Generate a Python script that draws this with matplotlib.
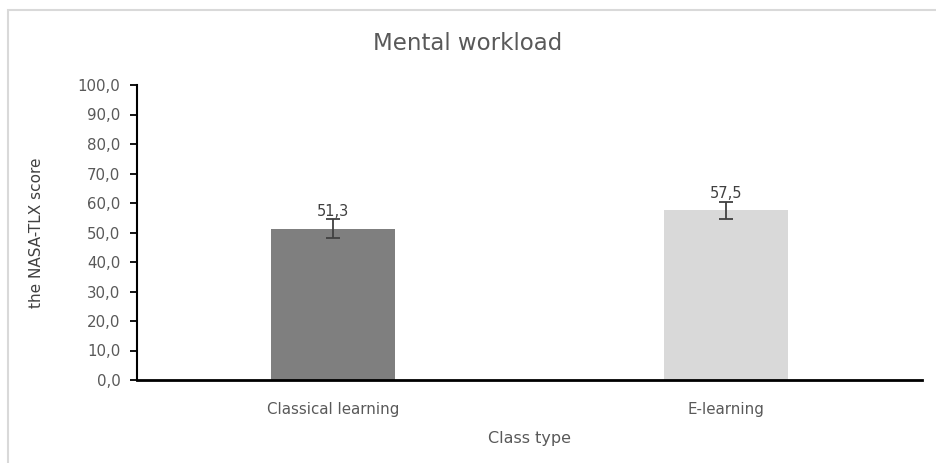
import numpy as np
import matplotlib.pyplot as plt
from matplotlib.patches import Rectangle

categories = ["Classical learning", "E-learning"]
scores = [51.3, 57.5]
errors = [3.2, 3.0]
bar_colors = ["#7f7f7f", "#d9d9d9"]
yticks = np.arange(0, 101, 10)

plt.rcParams['font.family'] = ['DejaVu Sans']
txt = "#595959"

fig = plt.figure(figsize=(9.36, 4.63), dpi=100)
ax = fig.add_axes([137/936, 1 - 380/463, (922 - 137)/936, (380 - 85)/463])

# light frame around the chart area (Excel style)
fig.patches.append(Rectangle((8/936, -0.1), 2, 1 - 10/463 + 0.1, transform=fig.transFigure,
                             fill=False, edgecolor="#d9d9d9", linewidth=1.5))

x = np.arange(len(categories))
ax.bar(x, scores, width=0.315, color=bar_colors, zorder=2)
ax.errorbar(x, scores, yerr=errors, fmt="none", ecolor="#404040", elinewidth=1.3,
            capsize=5, capthick=1.3, zorder=3)

for xi, v in zip(x, scores):
    ax.text(xi, v + 3.3, f"{v:.1f}".replace(".", ","), ha="center", va="bottom",
            fontsize=10.5, color="#404040")

ax.set_xlim(-0.5, 1.5)
ax.set_ylim(0, 100)
ax.set_yticks(yticks)
ax.set_yticklabels([f"{t:.1f}".replace(".", ",") for t in yticks], fontsize=10.8, color=txt)
ax.set_xticks(x)
ax.set_xticklabels(categories, fontsize=10.8, color=txt)
ax.tick_params(axis="x", length=0, pad=16)
ax.tick_params(axis="y", length=5, width=1.3, direction="out", color="black", pad=7)

for s in ["top", "right"]:
    ax.spines[s].set_visible(False)
ax.spines["left"].set_linewidth(1.5)
ax.spines["bottom"].set_linewidth(2)

ax.set_ylabel("the NASA-TLX score", fontsize=11, color="#404040", labelpad=24)
ax.set_xlabel("Class type", fontsize=11.5, color=txt, labelpad=10)
fig.text(0.5, 1 - 44/463, "Mental workload", ha="center", va="center", fontsize=16.5, color=txt)

fig.savefig("out.png", dpi=100)
